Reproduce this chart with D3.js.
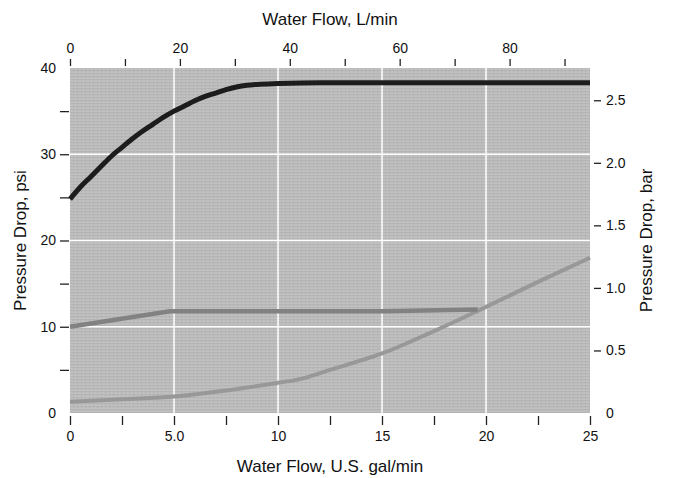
<!DOCTYPE html>
<html>
<head>
<meta charset="utf-8">
<script src="https://cdn.jsdelivr.net/npm/d3@7"></script>
<style>
  html, body { margin: 0; padding: 0; background: #ffffff; }
  svg { display: block; font-family: "Liberation Sans", Arial, Helvetica, sans-serif; }
</style>
</head>
<body>
<svg id="chart" width="681" height="478"></svg>
<script>
// ---- data ----
const topFlowGpm = [0, 0.5, 1, 1.5, 2, 2.5, 3, 3.5, 4, 4.5, 5, 5.5, 6, 6.5, 7, 7.5, 8, 8.5, 9, 10, 12, 15, 20, 25];
const topPsi     = [24.8, 26.2, 27.4, 28.6, 29.8, 30.8, 31.8, 32.7, 33.5, 34.3, 35.0, 35.6, 36.2, 36.7, 37.1, 37.5, 37.8, 38.0, 38.1, 38.2, 38.3, 38.3, 38.3, 38.3];

const midFlowGpm = [0, 4.8, 10, 15, 19.6];
const midPsi     = [10.0, 11.8, 11.8, 11.8, 12.0];

const lowFlowGpm = [0, 2.5, 5, 7.5, 10, 11, 12.5, 15, 17.5, 20, 22.5, 25];
const lowPsi     = [1.3, 1.6, 1.9, 2.6, 3.5, 3.9, 5.0, 6.9, 9.5, 12.3, 15.2, 18.0];

const bottomTicks = [0, 2.5, 5, 7.5, 10, 12.5, 15, 17.5, 20, 22.5, 25];
const bottomLabels = {0: "0", 5: "5.0", 10: "10", 15: "15", 20: "20", 25: "25"};
const topTicks = [0, 10, 20, 30, 40, 50, 60, 70, 80, 90];
const topLabels = {0: "0", 20: "20", 40: "40", 60: "60", 80: "80"};
const leftTicks = [0, 5, 10, 15, 20, 25, 30, 35, 40];
const leftLabels = {0: "0", 10: "10", 20: "20", 30: "30", 40: "40"};
const rightTicks = [0, 0.5, 1.0, 1.5, 2.0, 2.5];
const rightLabels = ["0", "0.5", "1.0", "1.5", "2.0", "2.5"];
const gridX = [5, 10, 15, 20];
const gridY = [10, 20, 30];

const LPG = 3.78541;   // litres per US gallon
const PSI_PER_BAR = 14.5038;

// ---- layout ----
const L = 70, R = 590, T = 68, B = 413;
const svg = d3.select("#chart");

const x = d3.scaleLinear().domain([0, 25]).range([L, R]);
const xL = d3.scaleLinear().domain([0, 25 * LPG]).range([L, R]);
const y = d3.scaleLinear().domain([0, 40]).range([B, T]);
const yBar = d3.scaleLinear().domain([0, 40 / PSI_PER_BAR]).range([B, T]);

// textured plot background (fine horizontal striation like the scan)
const defs = svg.append("defs");
const pat = defs.append("pattern").attr("id", "tex").attr("patternUnits", "userSpaceOnUse")
  .attr("width", 4).attr("height", 3);
pat.append("rect").attr("width", 4).attr("height", 3).attr("fill", "#c0c0c0");
pat.append("rect").attr("y", 1).attr("width", 4).attr("height", 1).attr("fill", "#b4b4b4");
pat.append("rect").attr("x", 1).attr("y", 2).attr("width", 1).attr("height", 1).attr("fill", "#b0b0b0");

svg.append("rect").attr("x", L).attr("y", T).attr("width", R - L).attr("height", B - T)
  .attr("fill", "url(#tex)");

// grid
svg.append("g").selectAll("line").data(gridX).join("line")
  .attr("x1", d => x(d)).attr("x2", d => x(d)).attr("y1", T).attr("y2", B)
  .attr("stroke", "#ffffff").attr("stroke-width", 1.5);
svg.append("g").selectAll("line").data(gridY).join("line")
  .attr("x1", L).attr("x2", R).attr("y1", d => y(d)).attr("y2", d => y(d))
  .attr("stroke", "#ffffff").attr("stroke-width", 1.5);

// curves
const lineSmooth = d3.line().x(d => x(d[0])).y(d => y(d[1])).curve(d3.curveMonotoneX);
const lineLin = d3.line().x(d => x(d[0])).y(d => y(d[1]));

svg.append("path").datum(lowFlowGpm.map((g, i) => [g, lowPsi[i]]))
  .attr("d", lineSmooth).attr("fill", "none").attr("stroke", "#989898").attr("stroke-width", 4);
svg.append("path").datum(midFlowGpm.map((g, i) => [g, midPsi[i]]))
  .attr("d", lineLin).attr("fill", "none").attr("stroke", "#828282").attr("stroke-width", 4.5);
svg.append("path").datum(topFlowGpm.map((g, i) => [g, topPsi[i]]))
  .attr("d", lineSmooth).attr("fill", "none").attr("stroke", "#1c1c1c").attr("stroke-width", 5);

// axes
function styleAxis(g) {
  g.select(".domain").remove();
  g.selectAll(".tick line").attr("stroke", "#222").attr("stroke-width", 1.3);
  g.selectAll(".tick text").attr("fill", "#111").style("font-size", "14px")
    .style("font-family", "'Liberation Sans', Arial, sans-serif");
}

svg.append("g").attr("transform", `translate(0,${B + 3})`)
  .call(d3.axisBottom(x).tickValues(bottomTicks).tickSize(9).tickPadding(6)
    .tickFormat(d => bottomLabels[d] !== undefined ? bottomLabels[d] : ""))
  .call(styleAxis);

svg.append("g").attr("transform", `translate(0,${T - 2})`)
  .call(d3.axisTop(xL).tickValues(topTicks).tickSize(7).tickPadding(6)
    .tickFormat(d => topLabels[d] !== undefined ? topLabels[d] : ""))
  .call(styleAxis);

svg.append("g").attr("transform", `translate(${L - 1},0)`)
  .call(d3.axisLeft(y).tickValues(leftTicks).tickSize(9).tickPadding(4)
    .tickFormat(d => leftLabels[d] !== undefined ? leftLabels[d] : ""))
  .call(styleAxis)
  .call(g => g.selectAll(".tick").filter(d => d === 0 || d === 40).select("line").remove());

svg.append("g").attr("transform", `translate(${R + 4},0)`)
  .call(d3.axisRight(yBar).tickValues(rightTicks).tickSize(7).tickPadding(5)
    .tickFormat((d, i) => rightLabels[i]))
  .call(styleAxis)
  .call(g => g.selectAll(".tick").filter(d => d === 0).select("line").remove());

// titles
const titleStyle = s => s.attr("fill", "#111").style("font-size", "17px")
  .style("font-family", "'Liberation Sans', Arial, sans-serif").attr("text-anchor", "middle");

svg.append("text").attr("x", 330).attr("y", 25).text("Water Flow, L/min").call(titleStyle);
svg.append("text").attr("x", 330).attr("y", 472).text("Water Flow, U.S. gal/min").call(titleStyle);
svg.append("text").attr("transform", `translate(26,${(T + B) / 2}) rotate(-90)`)
  .text("Pressure Drop, psi").call(titleStyle);
svg.append("text").attr("transform", `translate(652,${(T + B) / 2}) rotate(-90)`)
  .text("Pressure Drop, bar").call(titleStyle);
</script>
</body>
</html>
